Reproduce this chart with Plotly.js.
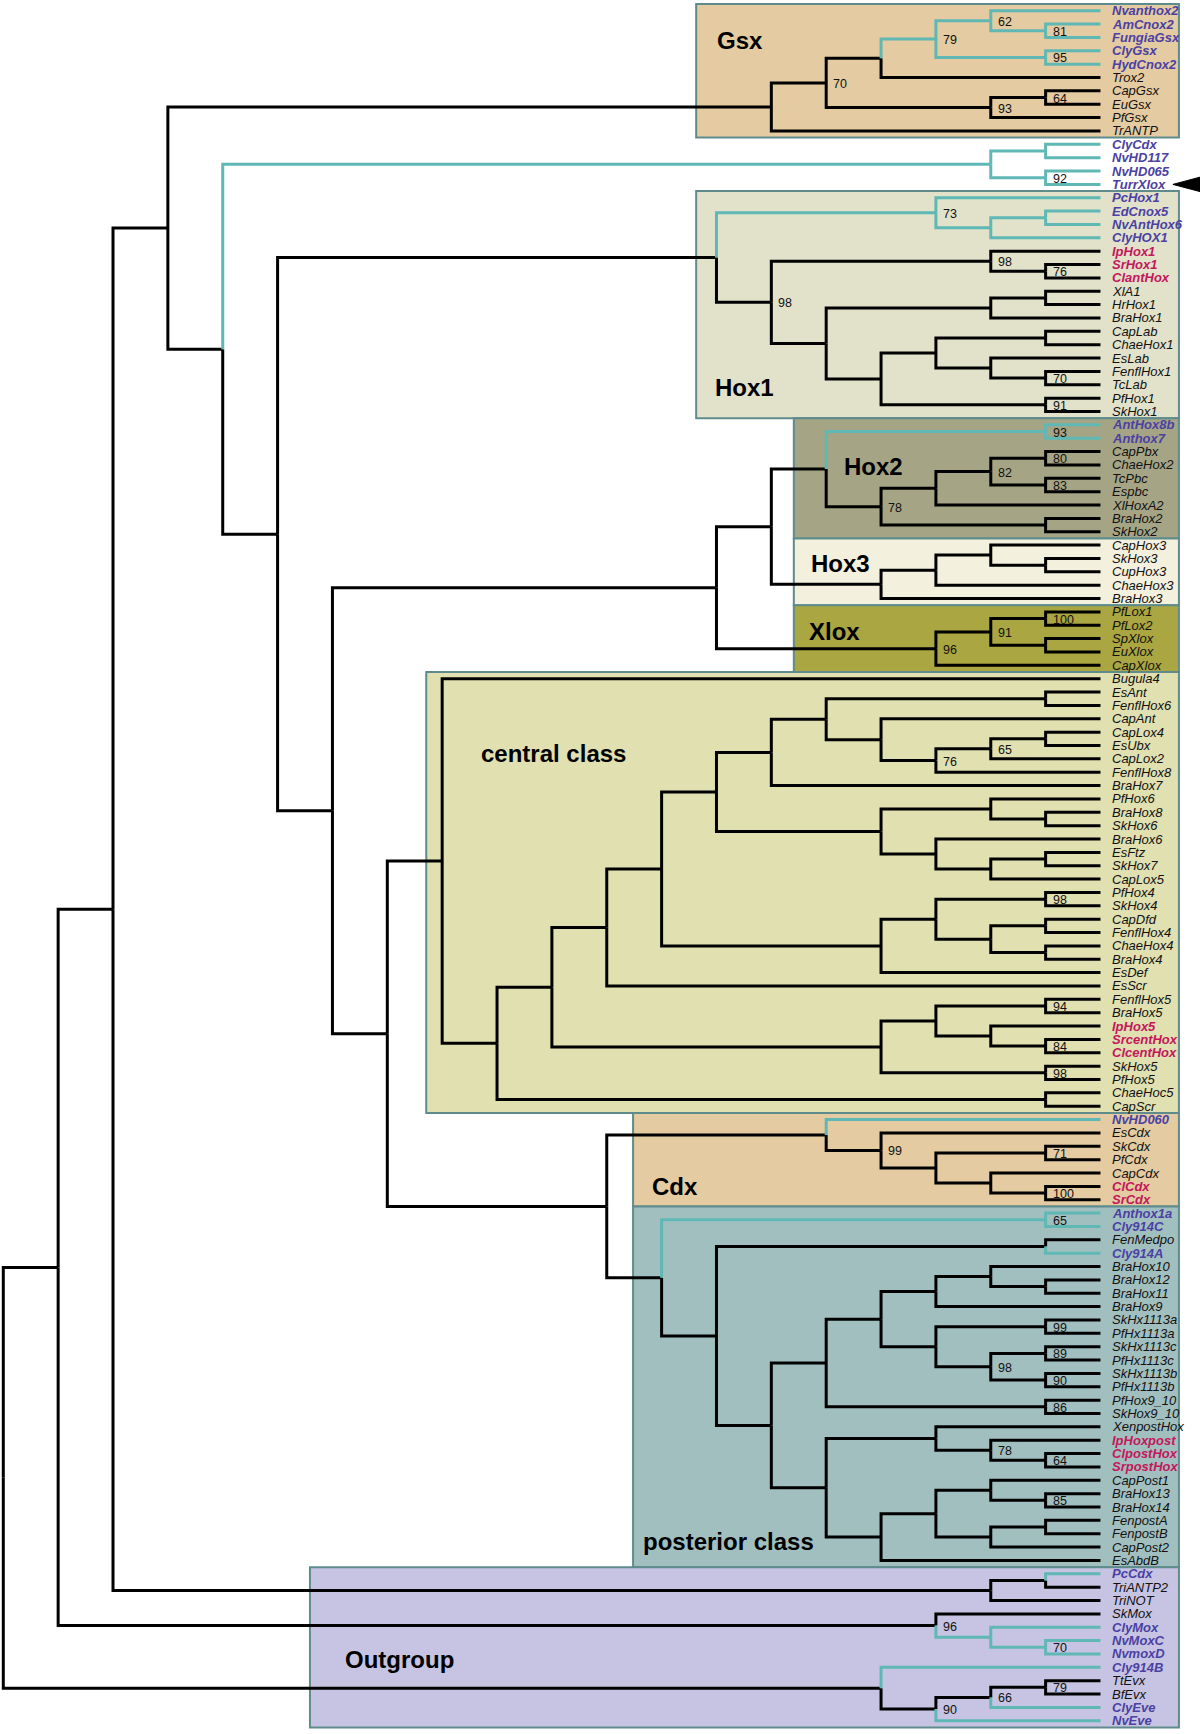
<!DOCTYPE html>
<html><head><meta charset="utf-8">
<script src="https://cdn.plot.ly/plotly-3.0.1.min.js"></script>
<style>html,body{margin:0;padding:0;background:#fff}#chart{width:1200px;height:1734px}</style>
</head><body><div id="chart"></div>
<script>
// ================= DATA =================
// Tree topology in Newick form: "(children)support:level", level = column of the node (tips are at level 20)
const gsxClade = "(((((Nvanthox2,(AmCnox2,FungiaGsx)81:19)62:18,(ClyGsx,HydCnox2)95:19)79:17,Trox2):16,((CapGsx,EuGsx)64:19,PfGsx)93:18)70:15,TrANTP):14";
const clyCdxClade = "((ClyCdx,NvHD117):19,(NvHD065,TurrXlox)92:19):18";
const hox1Clade = "((PcHox1,((EdCnox5,NvAntHox6):19,ClyHOX1):18)73:17,((IpHox1,(SrHox1,ClantHox)76:19)98:18,(((XlA1,HrHox1):19,BraHox1):18,(((CapLab,ChaeHox1):19,(EsLab,(FenflHox1,TcLab)70:19):18):17,(PfHox1,SkHox1)91:19):16):15)98:14):13";
const hox2Clade = "((AntHox8b,Anthox7)93:19,((((CapPbx,ChaeHox2)80:19,(TcPbc,Espbc)83:19)82:18,XlHoxA2):17,(BraHox2,SkHox2):19)78:16):15";
const hox3Clade = "(((CapHox3,(SkHox3,CupHox3):19):18,ChaeHox3):17,BraHox3):16";
const xloxClade = "(((PfLox1,PfLox2)100:19,(SpXlox,EuXlox):19)91:18,CapXlox)96:17";
const centralA = "((((EsAnt,FenflHox6):19,(CapAnt,(((CapLox4,EsUbx):19,CapLox2)65:18,FenflHox8)76:17):16):15,BraHox7):14,((PfHox6,(BraHox8,SkHox6):19):18,(BraHox6,((EsFtz,SkHox7):19,CapLox5):18):17):16):13";
const centralB = "(((PfHox4,SkHox4)98:19,((CapDfd,FenflHox4):19,(ChaeHox4,BraHox4):19):18):17,EsDef):16";
const centralC = "(((FenflHox5,BraHox5)94:19,(IpHox5,(SrcentHox,ClcentHox)84:19):18):17,(SkHox5,PfHox5)98:19):16";
const centralClade = "(Bugula4,((((" + centralA + "," + centralB + "):12,EsScr):11," + centralC + "):10,(ChaeHoc5,CapScr):19):9):8";
const cdxClade = "(NvHD060,(EsCdx,((SkCdx,PfCdx)71:19,(CapCdx,(ClCdx,SrCdx)100:19):18):17)99:16):15";
const postA = "((((BraHox10,(BraHox12,BraHox11):19):18,BraHox9):17,((SkHx1113a,PfHx1113a)99:19,((SkHx1113c,PfHx1113c)89:19,(SkHx1113b,PfHx1113b)90:19)98:18):17):16,(PfHox9_10,SkHox9_10)86:19):15";
const postB = "((XenpostHox,(IpHoxpost,(ClpostHox,SrpostHox)64:19)78:18):17,(((CapPost1,(BraHox13,BraHox14)85:19):18,((FenpostA,FenpostB):19,CapPost2):18):17,EsAbdB):16):15";
const posteriorClade = "((Anthox1a,Cly914C)65:19,((FenMedpo,Cly914A):19,(" + postA + "," + postB + "):14):13):12";
const triClade = "((PcCdx,TriANTP2):19,TriNOT):18";
const moxClade = "(SkMox,(ClyMox,(NvMoxC,NvmoxD)70:19):18)96:17";
const evxClade = "(Cly914B,(((TtEvx,BfEvx)79:19,ClyEve)66:18,NvEve)90:17):16";

const treeNewick =
  "((((" + gsxClade + ",(" + clyCdxClade + ",(" + hox1Clade + ",(((" + hox2Clade + "," + hox3Clade + "):14," + xloxClade + "):13,(" +
  centralClade + ",(" + cdxClade + "," + posteriorClade + "):11):7):6):5):4):3," + triClade + "):2," + moxClade + "):1," + evxClade + "):0";

const cnidarianLeaves = ["Nvanthox2","AmCnox2","FungiaGsx","ClyGsx","HydCnox2","ClyCdx","NvHD117","NvHD065","TurrXlox",
  "PcHox1","EdCnox5","NvAntHox6","ClyHOX1","AntHox8b","Anthox7","NvHD060","Anthox1a","Cly914C","Cly914A",
  "PcCdx","ClyMox","NvMoxC","NvmoxD","Cly914B","ClyEve","NvEve"];
const lophotrochozoanLeaves = ["IpHox1","SrHox1","ClantHox","IpHox5","SrcentHox","ClcentHox","ClCdx","SrCdx","IpHoxpost","ClpostHox","SrpostHox"];

const groupNames = ["Gsx","Hox1","Hox2","Hox3","Xlox","central class","Cdx","posterior class","Outgroup"];
const groupFirstLeaf = ["Nvanthox2","PcHox1","AntHox8b","CapHox3","PfLox1","Bugula4","NvHD060","Anthox1a","PcCdx"];
const groupLastLeaf = ["TrANTP","SkHox1","SkHox2","BraHox3","CapXlox","CapScr","SrCdx","EsAbdB","NvEve"];
const markedLeaf = "TurrXlox";

// ================= STYLE =================
const TIP_LEVEL = 20;
const groupFill = ["#e4cba1","#e2e2cb","#a5a586","#f4f0de","#aaa641","#e0e0b1","#e4cba1","#a2bfc0","#c6c4e2"];
const groupLeft = [12.63,12.63,14.41,14.41,14.41,7.71,11.48,11.48,5.59];
const groupRight = 21.43;
const groupLabelPos = [[12.97,3.2],[12.94,29.2],[15.29,35.1],[14.69,42.4],[14.65,47.5],[8.67,56.6],[11.79,89.0],[11.62,115.6],[6.19,124.4]];
const BLACK = "#000000", CYAN = "#5fb8b4", BLUE = "#4b41a3", RED = "#c2185b";
const FONT = "Liberation Sans, Arial, Helvetica, sans-serif";

// ================= PARSE =================
function parseNewick(s){
  let i = 0;
  function node(){
    let n;
    if (s[i] === '('){
      i++;
      const children = [];
      while (true){
        children.push(node());
        if (s[i] === ','){ i++; continue; }
        if (s[i] === ')'){ i++; break; }
        throw new Error("newick error at " + i);
      }
      n = {children};
    } else n = {};
    let label = '';
    while (i < s.length && !',():'.includes(s[i])){ label += s[i]; i++; }
    let level = null;
    if (s[i] === ':'){ i++; let num=''; while (i < s.length && /[0-9.]/.test(s[i])){ num += s[i]; i++; } level = parseFloat(num); }
    if (n.children){ n.support = label; n.level = level; } else { n.name = label; n.level = TIP_LEVEL; }
    return n;
  }
  return node();
}
const root = parseNewick(treeNewick);

const leaves = [];
let leafCounter = 0;
function layoutTree(n){
  if (!n.children){
    leafCounter++; n.y = leafCounter; leaves.push(n);
    n.cyan = cnidarianLeaves.includes(n.name);
    return;
  }
  n.children.forEach(c => { c.parent = n; layoutTree(c); });
  n.y = (n.children[0].y + n.children[n.children.length-1].y) / 2;
  n.cyan = n.children.every(c => c.cyan);
}
layoutTree(root);

const seg = {k:{x:[],y:[]}, c:{x:[],y:[]}};
const supports = [];
(function walk(n){
  if (n.parent){
    const t = n.cyan ? seg.c : seg.k;
    t.x.push(n.parent.level, n.parent.level, n.level, null);
    t.y.push(n.parent.y, n.y, n.y, null);
  }
  if (n.children){
    if (n.support) supports.push(n);
    n.children.forEach(walk);
  }
})(root);

const leafY = {};
leaves.forEach(l => leafY[l.name] = l.y);

// ================= FIGURE =================
const traces = [
  {type:'scatter', mode:'lines', x:seg.k.x, y:seg.k.y, line:{color:BLACK, width:3}, hoverinfo:'skip', showlegend:false, connectgaps:false},
  {type:'scatter', mode:'lines', x:seg.c.x, y:seg.c.y, line:{color:CYAN, width:3}, hoverinfo:'skip', showlegend:false, connectgaps:false}
];

const shapes = [];
const annotations = [];
groupNames.forEach((g, k) => {
  shapes.push({type:'rect', xref:'x', yref:'y', layer:'below',
    x0:groupLeft[k], x1:groupRight, y0:leafY[groupFirstLeaf[k]] - 0.5, y1:leafY[groupLastLeaf[k]] + 0.5,
    fillcolor:groupFill[k], line:{color:'#5f8b8c', width:2}});
  annotations.push({xref:'x', yref:'y', x:groupLabelPos[k][0], y:groupLabelPos[k][1], xanchor:'left', yanchor:'middle',
    text:'<b>' + g + '</b>', showarrow:false, font:{family:FONT, size:24, color:'#000'}});
});

leaves.forEach(l => {
  const isBlue = cnidarianLeaves.includes(l.name);
  const isRed = lophotrochozoanLeaves.includes(l.name);
  const txt = (isBlue || isRed) ? '<b><i>' + l.name + '</i></b>' : '<i>' + l.name + '</i>';
  annotations.push({xref:'x', yref:'y', x:TIP_LEVEL, y:l.y, xanchor:'left', yanchor:'middle', xshift:10,
    text:txt, showarrow:false, font:{family:FONT, size:13, color: isBlue ? BLUE : (isRed ? RED : '#111')}});
});

supports.forEach(n => {
  annotations.push({xref:'x', yref:'y', x:n.level, y:n.y, xanchor:'left', yanchor:'middle', xshift:5, yshift:-1,
    text:n.support, showarrow:false, font:{family:FONT, size:12.5, color:'#111'}});
});

// arrow pointing at the marked leaf
const ay = leafY[markedLeaf];
shapes.push({type:'path', xref:'x', yref:'y', layer:'above',
  path:`M 21.32 ${ay} L 21.85 ${ay-0.58} L 21.85 ${ay+0.58} Z`, fillcolor:'#000', line:{color:'#000', width:1}});

const layout = {
  width:1200, height:1734,
  margin:{l:0, r:0, t:0, b:0, pad:0},
  paper_bgcolor:'#ffffff', plot_bgcolor:'#ffffff',
  xaxis:{range:[-0.06, 21.874 - 0.06], visible:false, fixedrange:true},
  yaxis:{range:[129.99, 0.199], visible:false, fixedrange:true},
  shapes, annotations, showlegend:false
};
Plotly.newPlot('chart', traces, layout, {staticPlot:true});
</script></body></html>
